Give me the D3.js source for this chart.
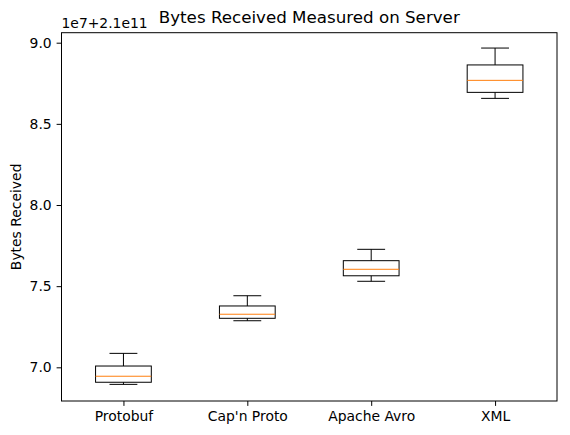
<!DOCTYPE html>
<html><head><meta charset="utf-8">
<script src="https://cdn.jsdelivr.net/npm/d3@7"></script>
<style>body{margin:0;background:#fff}svg{display:block}text{font-family:"DejaVu Sans",sans-serif}</style>
</head><body><svg id="c" width="570" height="435"></svg>
<script>
const categories = ["Protobuf", "Cap'n Proto", "Apache Avro", "XML"];
// values in units of 1e7, offset 2.1e11
const whiskerLow = [6.895, 7.287, 7.530, 8.657];
const q1         = [6.908, 7.302, 7.564, 8.694];
const median     = [6.945, 7.327, 7.604, 8.768];
const q3         = [7.008, 7.378, 7.657, 8.863];
const whiskerHigh= [7.086, 7.441, 7.727, 8.967];
const yTicks = [7.0, 7.5, 8.0, 8.5, 9.0];

const L = 61.5, R = 557, T = 32.7, B = 401;
const svg = d3.select("#c");
const x = d3.scaleLinear().domain([0.5, 4.5]).range([L, R]);
const y = d3.scaleLinear().domain([6.7925, 9.0616]).range([B, T]);
const boxW = x(1.45) - x(1), capW = x(1.225) - x(1);

const data = categories.map((c, i) => ({c, i, lo: whiskerLow[i], q1: q1[i], med: median[i], q3: q3[i], hi: whiskerHigh[i]}));

const g = svg.append("g");
data.forEach(d => {
  const cx = x(d.i + 1);
  const s = {stroke: "#000", "stroke-width": 1};
  g.append("line").attr("x1", cx).attr("x2", cx).attr("y1", y(d.q3)).attr("y2", y(d.hi)).attr("stroke", "#000");
  g.append("line").attr("x1", cx).attr("x2", cx).attr("y1", y(d.q1)).attr("y2", y(d.lo)).attr("stroke", "#000");
  g.append("line").attr("x1", cx - capW/2).attr("x2", cx + capW/2).attr("y1", y(d.hi)).attr("y2", y(d.hi)).attr("stroke", "#000");
  g.append("line").attr("x1", cx - capW/2).attr("x2", cx + capW/2).attr("y1", y(d.lo)).attr("y2", y(d.lo)).attr("stroke", "#000");
  g.append("rect").attr("x", cx - boxW/2).attr("width", boxW).attr("y", y(d.q3)).attr("height", y(d.q1) - y(d.q3))
    .attr("fill", "none").attr("stroke", "#000");
  g.append("line").attr("x1", cx - boxW/2).attr("x2", cx + boxW/2).attr("y1", y(d.med)).attr("y2", y(d.med)).attr("stroke", "#ff7f0e");
});

// axes
const xa = svg.append("g").attr("transform", `translate(0,${B})`)
  .call(d3.axisBottom(x).tickValues([1,2,3,4]).tickFormat((d,i) => categories[i]).tickSize(4.9).tickPadding(4.9));
const ya = svg.append("g").attr("transform", `translate(${L},0)`)
  .call(d3.axisLeft(y).tickValues(yTicks).tickFormat(d3.format(".1f")).tickSize(4.9).tickPadding(4.9));
[xa, ya].forEach(a => {
  a.select(".domain").remove();
  a.selectAll("text").attr("font-size", "13.9px").attr("fill", "#000").style("font-family", "DejaVu Sans");
  a.selectAll("line").attr("stroke", "#000");
});
svg.append("rect").attr("x", L).attr("y", T).attr("width", R - L).attr("height", B - T)
  .attr("fill", "none").attr("stroke", "#000").attr("stroke-width", 1);

svg.append("text").attr("x", (L + R) / 2).attr("y", 23).attr("text-anchor", "middle")
  .attr("font-size", "16.7px").text("Bytes Received Measured on Server");
svg.append("text").attr("x", L).attr("y", 28).attr("font-size", "13.9px").text("1e7+2.1e11");
svg.append("text").attr("transform", `translate(21,${(T + B) / 2}) rotate(-90)`).attr("text-anchor", "middle")
  .attr("font-size", "13.9px").text("Bytes Received");
</script></body></html>
